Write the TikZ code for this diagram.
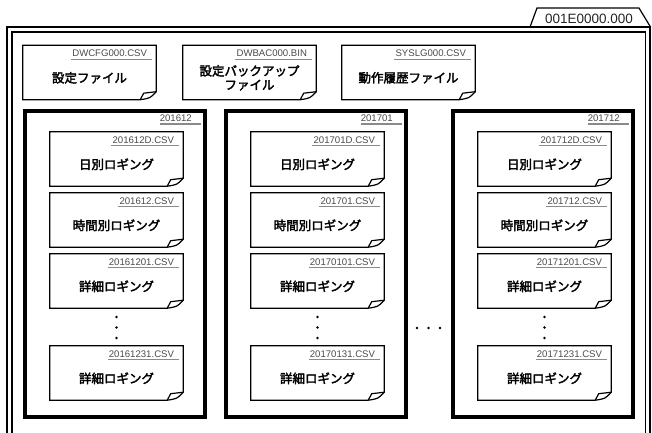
\documentclass[tikz,border=0pt]{standalone}
\usepackage{fontspec}
\setmainfont{Liberation Sans}
\newfontfamily\jp[FakeBold=2.5]{Noto Sans CJK JP}
\usetikzlibrary{calc}
\definecolor{fngray}{HTML}{4A4A4A}
\definecolor{ulgray}{HTML}{8A8A8A}
\tikzset{
  filebody/.style={rectangle, minimum width=133pt, minimum height=54pt, inner sep=0pt, draw=none},
  fileline/.style={draw=black, line width=1.2pt, line join=miter},
  fname/.style={inner sep=0pt, text=fngray, font=\fontsize{9.6}{11}\selectfont},
  uline/.style={draw=ulgray, line width=1.4pt},
  jlabel/.style={inner sep=0pt, align=center, font=\jp\fontsize{12.5}{14}\selectfont},
  folderbox/.style={rectangle, draw=black, line width=4pt, minimum width=180pt, minimum height=306pt, inner sep=0pt},
  outerline/.style={draw=black, line width=1.2pt},
  dotmark/.style={fill=black, draw=none}
}
\newcommand\docfile[5]{%
  \node[filebody] (#1) at ({#2+66.5},{#3+27}) {};
  \draw[fileline] (#1.north west) -- (#1.north east) -- ($(#1.south east)+(0,-8)$)
     .. controls ($(#1.south east)+(-6,-1.5)$) .. ($(#1.south east)+(-16,0)$) -- (#1.south west) -- cycle;
  \draw[fileline] ($(#1.south east)+(-16,0)$) -- ($(#1.south east)+(-12.5,-6.5)$) -- ($(#1.south east)+(0,-8)$);
  \node[fname, anchor=base east] (#1-fn) at ($(#1.north east)+(-9,11.5)$) {#4};
  \draw[uline] ($(#1-fn.base west)+(-1,2.4)$) -- ($(#1-fn.base east)+(5,2.4)$);
  \node[jlabel] (#1-lb) at ($(#1.north)+(0,32.5)$) {#5};
}
\newcommand\monthfolder[3]{% name, center x, label
  \node[folderbox] (#1) at (#2,263.5) {};
  \node[fname, anchor=base east] (#1-lb) at ($(#1.north east)+(-14.5,13)$) {#3};
  \draw[uline] ($(#1-lb.base west)+(0,2.6)$) -- ($(#1-lb.base east)+(9,2.6)$);
}
\begin{document}
\begin{tikzpicture}[x=1pt,y=-1pt]
\useasboundingbox (0,0) rectangle (652,432);
\clip (0,0) rectangle (652,432);
% outer folder
\draw[outerline] (530,27) -- (537,8) -- (639,8) -- (650.5,27);
\node[inner sep=0pt, text=black!85, font=\fontsize{13.5}{15}\selectfont] (tab) at (589,18.5) {001E0000.000};
\draw[outerline] (7,450) -- (7,27) -- (650,27) -- (650,450);
\draw[outerline] (12,450) -- (12,32) -- (645.5,32) -- (645.5,450);
% top files
\docfile{cfg}{23}{45.5}{DWCFG000.CSV}{設定ファイル}
\docfile{bac}{183}{45.5}{DWBAC000.BIN}{設定バックアップ\\ファイル}
\docfile{sys}{342}{45.5}{SYSLG000.CSV}{動作履歴ファイル}
% folders
\monthfolder{m1}{114.5}{201612}
\monthfolder{m2}{315.5}{201701}
\monthfolder{m3}{542.5}{201712}
% files in folder 1
\docfile{a1}{50}{132}{201612D.CSV}{日別ロギング}
\docfile{b1}{50}{193}{201612.CSV}{時間別ロギング}
\docfile{c1}{50}{254}{20161201.CSV}{詳細ロギング}
\docfile{d1}{50}{346}{20161231.CSV}{詳細ロギング}
% files in folder 2
\docfile{a2}{251}{132}{201701D.CSV}{日別ロギング}
\docfile{b2}{251}{193}{201701.CSV}{時間別ロギング}
\docfile{c2}{251}{254}{20170101.CSV}{詳細ロギング}
\docfile{d2}{251}{346}{20170131.CSV}{詳細ロギング}
% files in folder 3
\docfile{a3}{478}{132}{201712D.CSV}{日別ロギング}
\docfile{b3}{478}{193}{201712.CSV}{時間別ロギング}
\docfile{c3}{478}{254}{20171201.CSV}{詳細ロギング}
\docfile{d3}{478}{346}{20171231.CSV}{詳細ロギング}
% vertical dots
\foreach \cx in {116.5,317.5,544.5}{
  \foreach \cy in {317,327.5,338}{
    \fill[dotmark] (\cx,\cy) circle (1.3);
  }
}
% horizontal dots between folders
\foreach \cx in {417,428.5,440}{
  \fill[dotmark] (\cx,328) circle (1.3);
}
\end{tikzpicture}
\end{document}
